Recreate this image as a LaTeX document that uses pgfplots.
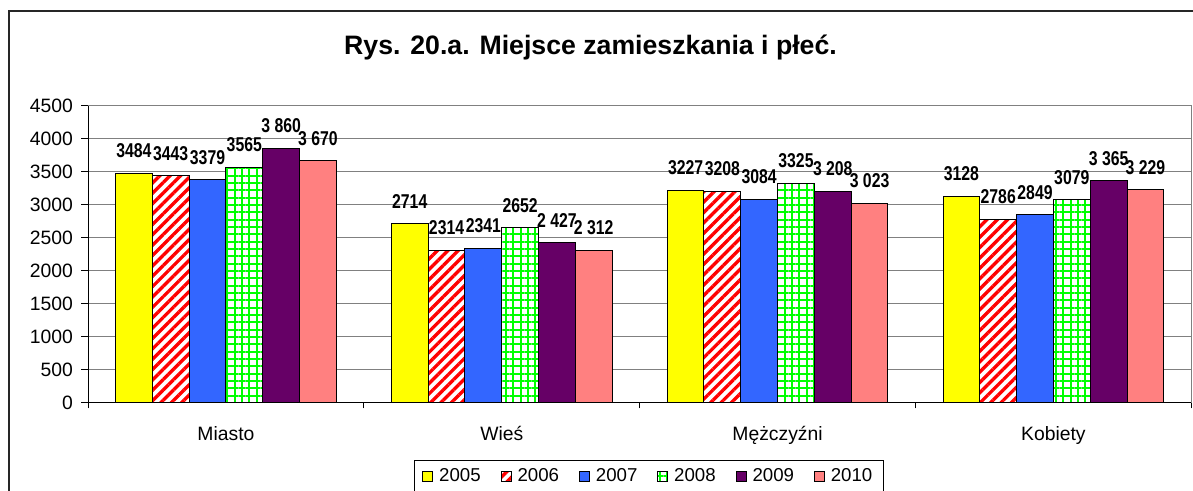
\documentclass[border=0pt]{standalone}
\usepackage{fontspec}
\setmainfont{Liberation Sans}
\newfontfamily\narrowbold[FakeStretch=0.79]{Liberation Sans Bold}
\usepackage{pgfplots}
\pgfplotsset{compat=1.18}
\usetikzlibrary{patterns.meta}
\definecolor{c2005}{RGB}{255,255,0}
\definecolor{c2006}{RGB}{255,0,0}
\definecolor{c2007}{RGB}{51,102,255}
\definecolor{c2008}{RGB}{0,255,0}
\definecolor{c2009}{RGB}{102,0,102}
\definecolor{c2010}{RGB}{255,128,128}
\definecolor{gridgray}{RGB}{128,128,128}
\begin{document}
\begin{tikzpicture}
\clip (0pt,0pt) rectangle (894.75pt,368.25pt);
\fill[white] (0pt,0pt) rectangle (894.75pt,368.25pt);
\draw[line width=1pt,black!85] (6.75pt,-20pt) -- (6.75pt,360pt) -- (920pt,360pt);
\node[font=\bfseries\fontsize{20pt}{24pt}\selectfont] at (442.9pt,333pt) {Rys. 20.a. Miejsce zamieszkania i płeć.};
\begin{axis}[
  at={(66pt,66pt)}, anchor=south west,
  scale only axis, width=827.5pt, height=222.75pt,
  xmin=-0.5, xmax=3.5, ymin=0, ymax=4500,
  ybar=0pt, bar width=27.6pt,
  xtick={0,1,2,3},
  xticklabels={Miasto,Wieś,Mężczyźni,Kobiety},
  minor xtick={-0.5,0.5,1.5,2.5,3.5},
  ytick={0,500,...,4500},
  xtick pos=bottom, ytick pos=left,
  tick align=outside,
  major tick length=5.25pt, minor tick length=4pt,
  major x tick style={draw=none},
  minor x tick style={black, line width=0.75pt},
  major y tick style={black, line width=0.75pt},
  ymajorgrids, grid style={gridgray, line width=0.75pt},
  axis line style={gridgray, line width=0.75pt},
  ticklabel style={font=\fontsize{14.5pt}{17pt}\selectfont},
  yticklabel style={xshift=-2.5pt},
  xticklabel style={yshift=-9pt},
  /pgf/number format/assume math mode=true,
  scaled y ticks=false,
  y tick label style={/pgf/number format/1000 sep={}},
  every node near coord/.append style={font=\narrowbold\fontsize{15pt}{18pt}\selectfont, inner sep=0pt, anchor=south, yshift=11.25pt, black},
  legend columns=6,
  legend style={at={(0.2954,-0.1919)}, anchor=north west, draw=black, line width=0.75pt,
    font=\fontsize{14pt}{16pt}\selectfont, inner xsep=6pt, inner ysep=4pt,
    /tikz/every odd column/.append style={column sep=2.5pt},
    /tikz/every even column/.append style={column sep=13pt}},
  legend image code/.code={\draw[#1, line width=0.6pt] (0pt,-3.75pt) rectangle (7.5pt,3.75pt);},
]
\addplot+[fill=c2005, draw=black, line width=0.75pt,
  nodes near coords={\pgfmathprintnumber[1000 sep={}]{\pgfplotspointmeta}}]
  coordinates {(0,3484) (1,2714) (2,3227) (3,3128)};
\addplot+[fill=white, draw=black, line width=0.75pt,
  postaction={pattern={Lines[angle=45,distance=5.5pt,line width=2.5pt]}, pattern color=c2006},
  nodes near coords={\pgfmathprintnumber[1000 sep={}]{\pgfplotspointmeta}}]
  coordinates {(0,3443) (1,2314) (2,3208) (3,2786)};
\addplot+[fill=c2007, draw=black, line width=0.75pt,
  nodes near coords={\pgfmathprintnumber[1000 sep={}]{\pgfplotspointmeta}}]
  coordinates {(0,3379) (1,2341) (2,3084) (3,2849)};
\addplot+[fill=white, draw=black, line width=0.75pt,
  postaction={pattern={Hatch[angle=0,distance=5.5pt,line width=1.5pt]}, pattern color=c2008},
  nodes near coords={\pgfmathprintnumber[1000 sep={}]{\pgfplotspointmeta}}]
  coordinates {(0,3565) (1,2652) (2,3325) (3,3079)};
\addplot+[fill=c2009, draw=black, line width=0.75pt,
  nodes near coords={\pgfmathprintnumber[1000 sep={\ }]{\pgfplotspointmeta}}]
  coordinates {(0,3860) (1,2427) (2,3208) (3,3365)};
\addplot+[fill=c2010, draw=black, line width=0.75pt,
  nodes near coords={\pgfmathprintnumber[1000 sep={\ }]{\pgfplotspointmeta}}]
  coordinates {(0,3670) (1,2312) (2,3023) (3,3229)};
\legend{2005,2006,2007,2008,2009,2010}
\draw[black, line width=0.75pt] (rel axis cs:0,1) -- (rel axis cs:0,0) -- (rel axis cs:1,0);
\end{axis}
\end{tikzpicture}
\end{document}
